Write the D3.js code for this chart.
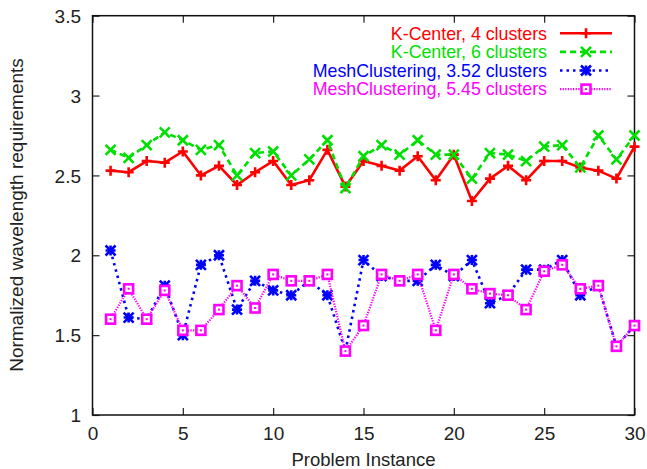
<!DOCTYPE html>
<html>
<head>
<meta charset="utf-8">
<script src="https://cdn.jsdelivr.net/npm/d3@7"></script>
<style>
  body { margin: 0; background: #fff; }
  svg { display: block; font-family: "Liberation Sans", Arial, Helvetica, sans-serif; }
</style>
</head>
<body>
<svg id="chart" width="647" height="469"></svg>
<script>
// problem instances 1..30
var instances = d3.range(1, 31);

var kCenter4 = [2.53, 2.52, 2.59, 2.58, 2.65, 2.50, 2.56, 2.44, 2.52, 2.59,
                2.44, 2.47, 2.66, 2.43, 2.59, 2.56, 2.53, 2.62, 2.47, 2.63,
                2.34, 2.48, 2.56, 2.47, 2.59, 2.59, 2.55, 2.53, 2.48, 2.68];
var kCenter6 = [2.66, 2.61, 2.69, 2.77, 2.72, 2.66, 2.69, 2.50, 2.64, 2.65,
                2.50, 2.60, 2.72, 2.42, 2.62, 2.69, 2.63, 2.72, 2.63, 2.63,
                2.48, 2.64, 2.63, 2.59, 2.68, 2.69, 2.55, 2.75, 2.60, 2.75];
var mesh352 = [2.03, 1.61, 1.60, 1.81, 1.50, 1.94, 2.00, 1.66, 1.84, 1.78,
               1.75, 1.84, 1.75, 1.40, 1.97, 1.87, 1.84, 1.84, 1.94, 1.87,
               1.97, 1.70, 1.75, 1.91, 1.91, 1.97, 1.75, 1.81, 1.43, 1.56];
var mesh545 = [1.60, 1.79, 1.60, 1.78, 1.53, 1.53, 1.66, 1.81, 1.67, 1.88,
               1.84, 1.84, 1.88, 1.40, 1.56, 1.88, 1.84, 1.88, 1.53, 1.88,
               1.79, 1.76, 1.75, 1.66, 1.90, 1.94, 1.79, 1.81, 1.43, 1.56];

var seriesNames = ["K-Center, 4 clusters", "K-Center, 6 clusters",
                   "MeshClustering, 3.52 clusters", "MeshClustering, 5.45 clusters"];
var xTicks = [0, 5, 10, 15, 20, 25, 30];
var yTicks = [1, 1.5, 2, 2.5, 3, 3.5];

var series = [
    { name: seriesNames[0], values: kCenter4, color: "#ff0000", dash: null, width: 2.6, marker: "plus" },
    { name: seriesNames[1], values: kCenter6, color: "#00e000", dash: "6,4", width: 2.6, marker: "cross" },
    { name: seriesNames[2], values: mesh352, color: "#0000ff", dash: "2.5,4", width: 2.6, marker: "star" },
    { name: seriesNames[3], values: mesh545, color: "#ff00ff", dash: "1.3,1.3", width: 2.2, marker: "box" }
];

var svg = d3.select("#chart"),
    plotLeft = 92.5, plotRight = 634.5, plotTop = 15.7, plotBottom = 415;

var x = d3.scaleLinear().domain([0, 30]).range([plotLeft, plotRight]);
var y = d3.scaleLinear().domain([1, 3.5]).range([plotBottom, plotTop]);

// axes with inward ticks, mirrored on top and right
function styleAxis(g) {
    g.select(".domain").remove();
    g.selectAll(".tick line").attr("stroke", "#222").attr("stroke-width", 1.2);
}

svg.append("g")
    .attr("transform", "translate(0," + plotBottom + ")")
    .call(d3.axisBottom(x).tickValues(xTicks).tickSizeInner(-7).tickSizeOuter(0))
    .call(styleAxis)
    .call(function (g) {
        g.selectAll(".tick text").attr("y", 25).attr("dy", 0)
            .attr("font-size", 19).attr("fill", "#222").attr("font-family", null);
    });

svg.append("g")
    .attr("transform", "translate(0," + plotTop + ")")
    .call(d3.axisTop(x).tickValues(xTicks).tickSizeInner(-7).tickSizeOuter(0).tickFormat(""))
    .call(styleAxis);

svg.append("g")
    .attr("transform", "translate(" + plotLeft + ",0)")
    .call(d3.axisLeft(y).tickValues(yTicks).tickSizeInner(-7).tickSizeOuter(0).tickFormat(d3.format("")))
    .call(styleAxis)
    .call(function (g) {
        g.selectAll(".tick text").attr("x", -11.5).attr("dy", "0.35em")
            .attr("font-size", 19).attr("fill", "#222").attr("font-family", null);
    });

svg.append("g")
    .attr("transform", "translate(" + plotRight + ",0)")
    .call(d3.axisRight(y).tickValues(yTicks).tickSizeInner(-7).tickSizeOuter(0).tickFormat(""))
    .call(styleAxis);

svg.append("rect")
    .attr("x", plotLeft).attr("y", plotTop)
    .attr("width", plotRight - plotLeft).attr("height", plotBottom - plotTop)
    .attr("fill", "none").attr("stroke", "#111").attr("stroke-width", 1.5);

// axis titles
svg.append("text")
    .attr("x", (plotLeft + plotRight) / 2).attr("y", 466)
    .attr("text-anchor", "middle").attr("font-size", 18.5).attr("fill", "#222")
    .text("Problem Instance");

svg.append("text")
    .attr("transform", "translate(23," + ((53 + 377) / 2) + ") rotate(-90)")
    .attr("text-anchor", "middle").attr("font-size", 19).attr("fill", "#222")
    .text("Normalized wavelength requirements");

// marker shapes, drawn centred on 0,0
function drawMarker(g, type, color) {
    var s = 5;
    if (type === "plus" || type === "star") {
        g.append("path").attr("d", "M" + -s + ",0H" + s + "M0," + -s + "V" + s)
            .attr("stroke", color).attr("stroke-width", 2.6).attr("fill", "none");
    }
    if (type === "cross" || type === "star") {
        g.append("path").attr("d", "M" + -s + "," + -s + "L" + s + "," + s + "M" + -s + "," + s + "L" + s + "," + -s)
            .attr("stroke", color).attr("stroke-width", 2.6).attr("fill", "none");
    }
    if (type === "box") {
        g.append("rect").attr("x", -4.5).attr("y", -4.5).attr("width", 9).attr("height", 9)
            .attr("fill", "#fff").attr("stroke", color).attr("stroke-width", 2.6);
        g.append("rect").attr("x", -1).attr("y", -1).attr("width", 2).attr("height", 2)
            .attr("fill", color);
    }
}

var line = d3.line()
    .x(function (d, i) { return x(instances[i]); })
    .y(function (d) { return y(d); });

series.forEach(function (s) {
    var g = svg.append("g");
    g.append("path")
        .datum(s.values)
        .attr("d", line)
        .attr("fill", "none")
        .attr("stroke", s.color)
        .attr("stroke-width", s.width)
        .attr("stroke-dasharray", s.dash);
    g.selectAll("g.pt")
        .data(s.values)
        .enter().append("g")
        .attr("class", "pt")
        .attr("transform", function (d, i) { return "translate(" + x(instances[i]) + "," + y(d) + ")"; })
        .each(function () { drawMarker(d3.select(this), s.marker, s.color); });
});

// legend, top right
var legend = svg.append("g");
series.forEach(function (s, k) {
    var cy = 33.3 + k * 18.6;
    legend.append("text")
        .attr("x", 547).attr("y", cy).attr("dy", "0.35em")
        .attr("text-anchor", "end").attr("font-size", 17.8).attr("fill", s.color)
        .text(s.name);
    legend.append("line")
        .attr("x1", 560).attr("x2", 612).attr("y1", cy).attr("y2", cy)
        .attr("stroke", s.color).attr("stroke-width", s.width)
        .attr("stroke-dasharray", s.dash);
    drawMarker(legend.append("g").attr("transform", "translate(586," + cy + ")"), s.marker, s.color);
});
</script>
</body>
</html>
